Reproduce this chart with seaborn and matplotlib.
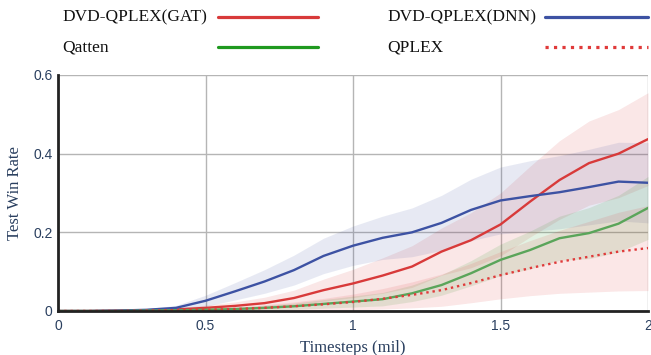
import matplotlib
matplotlib.use("Agg")
import matplotlib.pyplot as plt
from matplotlib.lines import Line2D
import numpy as np
import pandas as pd
import seaborn as sns

sns.set_style("white")

# timesteps (millions)
steps = [0.0, 0.1, 0.2, 0.3, 0.4, 0.5, 0.6, 0.7, 0.8, 0.9, 1.0,
         1.1, 1.2, 1.3, 1.4, 1.5, 1.6, 1.7, 1.8, 1.9, 2.0]

gat_mean = [0, 0, 0.001, 0.002, 0.004, 0.008, 0.013, 0.02, 0.033, 0.053, 0.07,
            0.09, 0.113, 0.151, 0.18, 0.22, 0.278, 0.333, 0.376, 0.4, 0.437]
gat_std = [0, 0, 0.001, 0.002, 0.004, 0.007, 0.01, 0.015, 0.02, 0.028, 0.036,
           0.045, 0.053, 0.06, 0.07, 0.08, 0.09, 0.1, 0.107, 0.112, 0.118]

dnn_mean = [0, 0, 0.001, 0.003, 0.008, 0.026, 0.05, 0.075, 0.104, 0.14, 0.166,
            0.186, 0.2, 0.224, 0.257, 0.281, 0.292, 0.302, 0.315, 0.329, 0.326]
dnn_std = [0, 0, 0.001, 0.003, 0.006, 0.014, 0.022, 0.03, 0.038, 0.045, 0.05,
           0.055, 0.062, 0.07, 0.078, 0.085, 0.09, 0.093, 0.096, 0.1, 0.102]

qatten_mean = [0, 0, 0, 0.001, 0.002, 0.003, 0.005, 0.008, 0.012, 0.018, 0.024,
               0.03, 0.045, 0.066, 0.096, 0.13, 0.155, 0.185, 0.198, 0.222, 0.262]
qatten_std = [0, 0, 0, 0.001, 0.002, 0.003, 0.004, 0.006, 0.008, 0.011, 0.014,
              0.017, 0.021, 0.026, 0.032, 0.04, 0.048, 0.056, 0.065, 0.072, 0.08]

qplex_mean = [0, 0, 0, 0.001, 0.002, 0.003, 0.005, 0.008, 0.012, 0.017, 0.023,
              0.031, 0.041, 0.053, 0.071, 0.091, 0.109, 0.125, 0.138, 0.151, 0.16]
qplex_std = [0, 0, 0, 0.001, 0.002, 0.003, 0.005, 0.008, 0.011, 0.015, 0.02,
             0.026, 0.033, 0.041, 0.05, 0.06, 0.07, 0.08, 0.09, 0.1, 0.108]

labels = ["DVD-QPLEX(GAT)", "DVD-QPLEX(DNN)", "Qatten", "QPLEX"]
colors = ["#d83a3a", "#3d52a3", "#1f991f", "#e03a3a"]
line_colors = ["#d83a3a", "#3d52a3", "#5aa55a", "#e03a3a"]
dashes = ["-", "-", "-", ":"]
means = [gat_mean, dnn_mean, qatten_mean, qplex_mean]
stds = [gat_std, dnn_std, qatten_std, qplex_std]

rows = []
for lab, m, s in zip(labels, means, stds):
    for x, mv, sv in zip(steps, m, s):
        rows.append({"method": lab, "step": x, "mean": mv, "std": sv})
df = pd.DataFrame(rows)

text_col = "#2a3f5f"
fig = plt.figure(figsize=(6.51, 3.55), dpi=100)
ax = fig.add_axes([58 / 651, 1 - 311 / 355, 590 / 651, 236 / 355])

# shaded bands
for lab, c in zip(labels, colors):
    d = df[df["method"] == lab]
    lo = np.clip(d["mean"] - d["std"], 0, None)
    hi = d["mean"] + d["std"]
    ax.fill_between(d["step"], lo, hi, color=c, alpha=0.12, linewidth=0)

for lab, c, ls in zip(labels, line_colors, dashes):
    d = df[df["method"] == lab]
    sns.lineplot(data=d, x="step", y="mean", ax=ax, color=c,
                 linestyle=ls, linewidth=1.7, legend=False)

ax.set_xlim(0, 2)
ax.set_ylim(0, 0.6)
ax.set_xticks([0, 0.5, 1, 1.5, 2])
ax.set_xticklabels(["0", "0.5", "1", "1.5", "2"])
ax.set_yticks([0, 0.2, 0.4, 0.6])
ax.set_yticklabels(["0", "0.2", "0.4", "0.6"])
ax.grid(True, color="#b5b5b5", linewidth=1)
ax.set_axisbelow(True)
for sp in ["top", "right"]:
    ax.spines[sp].set_visible(False)
for sp in ["left", "bottom"]:
    ax.spines[sp].set_color("#222222")
    ax.spines[sp].set_linewidth(2)
ax.tick_params(axis="both", length=0, labelsize=10, labelcolor=text_col)
ax.tick_params(axis="y", pad=4)
ax.tick_params(axis="x", pad=6)
for t in ax.get_xticklabels() + ax.get_yticklabels():
    t.set_fontfamily("Liberation Sans")

ax.set_xlabel("Timesteps (mil)", family="Liberation Serif", fontsize=12, color=text_col)
ax.set_ylabel("Test Win Rate", family="Liberation Serif", fontsize=12, color=text_col)
ax.xaxis.set_label_coords(0.5, -0.155)
ax.yaxis.set_label_coords(-0.073, 0.5)
ax.xaxis.label.set_va("center")
ax.yaxis.label.set_va("center")

# legend laid out like the original: text, then line sample, two columns
text_x = [62 / 651, 387 / 651]
line_x = [(218 / 651, 318 / 651), (545 / 651, 648 / 651)]
row_y = [1 - 17 / 355, 1 - 47 / 355]
for i, (lab, c, ls) in enumerate(zip(labels, colors, dashes)):
    col, row = i % 2, i // 2
    fig.text(text_x[col], row_y[row], lab, family="Liberation Serif",
             fontsize=12.5, color="#111111", va="center", ha="left")
    fig.add_artist(Line2D(line_x[col], [row_y[row]] * 2, color=c,
                          linestyle=ls, linewidth=2.3, transform=fig.transFigure))

fig.savefig("out.png", dpi=100)
